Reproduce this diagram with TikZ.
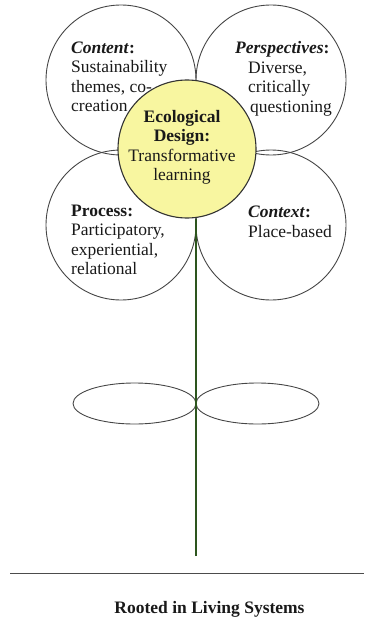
\documentclass[tikz,border=0pt]{standalone}
\usepackage{fontspec}
\setmainfont{Liberation Serif}
\usetikzlibrary{positioning}
\definecolor{petalline}{RGB}{70,70,70}
\definecolor{corefill}{RGB}{248,246,160}
\definecolor{stemgreen}{RGB}{45,85,30}

\begin{document}
\begin{tikzpicture}[x=1pt, y=-1pt,
    petal/.style={draw=petalline, line width=0.9pt, circle, minimum size=150pt, inner sep=0pt},
    core/.style={draw=black!80, fill=corefill, line width=1.1pt, circle, minimum size=138pt, inner sep=0pt},
    txt/.style={font=\fontsize{17.5}{19.5}\selectfont, inner sep=0pt, text=black!90},
    leaf/.style={draw=petalline, line width=0.9pt},
    stemline/.style={draw=stemgreen, line width=1.8pt},
    groundline/.style={draw=black!70, line width=1pt}]
    \useasboundingbox (0,0) rectangle (364,623);
    % petals
    \node[petal] (content) at (121,80) {};
    \node[petal] (perspectives) at (271,80) {};
    \node[petal] (process) at (121,225) {};
    \node[petal] (context) at (271,225) {};
    % centre of the flower
    \node[core] (core) at (187,149) {};
    % stem and leaves
    \coordinate (root) at (196,556);
    \coordinate (leafbase) at (196,403.5);
    \path[leaf] ([xshift=-61.5pt]leafbase) ellipse [x radius=61.5pt, y radius=20.5pt];
    \path[leaf] ([xshift=61.5pt]leafbase) ellipse [x radius=61.5pt, y radius=20.5pt];
    \path[stemline] (root) -- (root |- core.south);
    % ground
    \coordinate (groundL) at (10,573);
    \coordinate (groundR) at (364,573);
    \path[groundline] (groundL) -- (groundR);
    % texts
    \node[txt, align=left, anchor=west] (contenttxt) at (71,77)
        {\textbf{\textit{Content}:}\\Sustainability\\themes, co-\\creation};
    \node[txt, align=left, anchor=west] (perspectivestxt) at (235,79)
        {\textbf{\textit{Perspectives}:}\\\hspace*{13pt}Diverse,\\\hspace*{13pt}critically\\\hspace*{15pt}questioning};
    \node[txt, align=left, anchor=west] (processtxt) at (71,240)
        {\textbf{Process:}\\Participatory,\\experiential,\\relational};
    \node[txt, align=left, anchor=west] (contexttxt) at (248,222)
        {\textbf{\textit{Context}:}\\Place-based};
    \node[txt, align=center] (coretxt) at (182,147.5)
        {\textbf{Ecological}\\\textbf{Design:}\\Transformative\\learning};
    \node[txt, font=\fontsize{17.5}{19.5}\selectfont\bfseries] (rooted) at (209.5,609) {Rooted in Living Systems};
\end{tikzpicture}
\end{document}
